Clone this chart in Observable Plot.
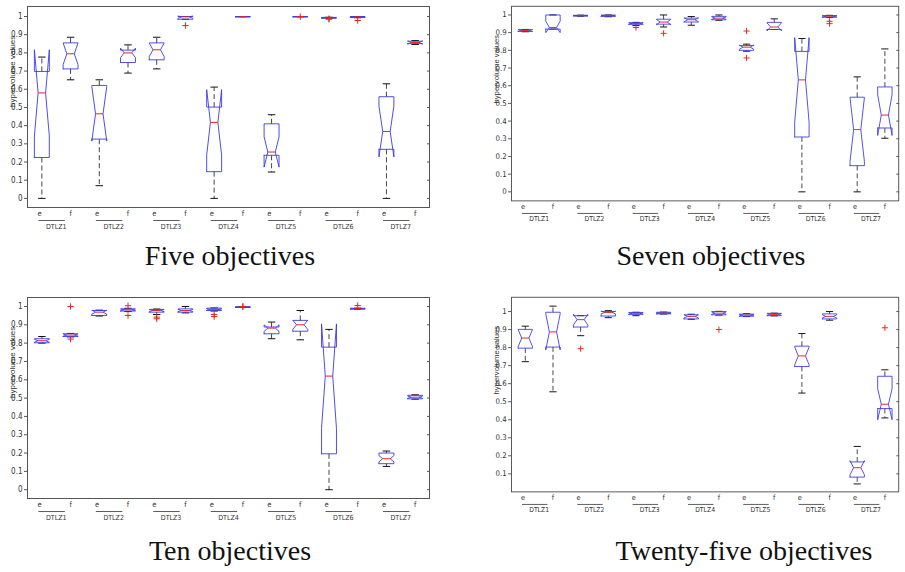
<!DOCTYPE html>
<html><head><meta charset="utf-8">
<script src="https://cdn.jsdelivr.net/npm/d3@7"></script>
<script src="https://cdn.jsdelivr.net/npm/@observablehq/plot@0.6"></script>
<style>
html,body{margin:0;padding:0;background:#fff;width:905px;height:572px;overflow:hidden;position:relative;}
.panel{position:absolute;}
.title{position:absolute;width:400px;text-align:center;font-family:"Liberation Serif","DejaVu Serif",serif;font-size:28px;line-height:30px;color:#111;white-space:nowrap;}
</style></head><body>
<div id="p1" class="panel" style="left:0;top:0"></div>
<div id="p2" class="panel" style="left:450px;top:0"></div>
<div id="p3" class="panel" style="left:0;top:291px"></div>
<div id="p4" class="panel" style="left:450px;top:291px"></div>
<div class="title" style="left:30px;top:241px">Five objectives</div>
<div class="title" style="left:511px;top:241px">Seven objectives</div>
<div class="title" style="left:30px;top:536px">Ten objectives</div>
<div class="title" style="left:544px;top:536px">Twenty-five objectives</div>
<script>
// Problems and algorithm variants (two boxes per problem)
const problems = ["DTLZ1","DTLZ2","DTLZ3","DTLZ4","DTLZ5","DTLZ6","DTLZ7"];
const variants = ["e","f"];
const yLabel = "hypervolume values";
const ticksFull = [0,0.1,0.2,0.3,0.4,0.5,0.6,0.7,0.8,0.9,1];
const ticksNoZero = [0.1,0.2,0.3,0.4,0.5,0.6,0.7,0.8,0.9,1];

// Box statistics per box (DTLZ1 e, DTLZ1 f, DTLZ2 e, ...):
// [lower whisker, Q1, notch low, median, notch high, Q3, upper whisker]
const fiveStats = [
  [0.000,0.225,0.343,0.580,0.817,0.698,0.777],
  [0.652,0.712,0.735,0.795,0.855,0.855,0.886],
  [0.070,0.326,0.315,0.465,0.615,0.621,0.652],
  [0.689,0.747,0.774,0.800,0.826,0.815,0.844],
  [0.712,0.762,0.780,0.817,0.854,0.855,0.886],
  [0.985,0.985,0.990,0.998,1.003,1.000,1.000],
  [0.000,0.147,0.238,0.418,0.598,0.502,0.612],
  [0.998,0.998,0.998,0.999,1.000,1.000,1.000],
  [0.145,0.237,0.172,0.255,0.338,0.410,0.460],
  [0.998,0.998,0.998,0.999,1.000,1.000,1.000],
  [0.990,0.991,0.991,0.993,0.995,0.995,0.996],
  [0.993,0.995,0.996,0.998,1.000,1.000,1.000],
  [0.000,0.270,0.228,0.368,0.508,0.559,0.630],
  [0.846,0.851,0.848,0.857,0.866,0.864,0.868]
];
const fiveOutliers = [[6,0.950],[10,0.999],[11,0.985],[11,0.988],[12,0.978]];

const sevenStats = [
  [0.905,0.907,0.906,0.912,0.918,0.917,0.918],
  [0.920,0.920,0.900,0.929,0.965,1.000,1.000],
  [0.993,0.994,0.994,0.996,0.998,0.998,0.999],
  [0.990,0.992,0.993,0.996,0.999,0.999,1.000],
  [0.940,0.947,0.948,0.952,0.956,0.956,0.958],
  [0.932,0.948,0.945,0.960,0.975,0.976,1.000],
  [0.942,0.960,0.962,0.973,0.984,0.982,0.991],
  [0.970,0.973,0.975,0.982,0.989,0.992,1.000],
  [0.795,0.800,0.806,0.818,0.830,0.827,0.835],
  [0.918,0.918,0.910,0.932,0.955,0.958,0.978],
  [0.000,0.310,0.394,0.633,0.872,0.794,0.867],
  [0.986,0.987,0.989,0.993,0.997,0.996,0.998],
  [0.000,0.148,0.172,0.352,0.532,0.535,0.650],
  [0.303,0.361,0.319,0.434,0.549,0.593,0.808]
];
const sevenOutliers = [[5,0.929],[6,0.896],[9,0.909],[9,0.757],[12,0.964],[12,0.951]];

const tenStats = [
  [0.800,0.802,0.805,0.813,0.821,0.824,0.836],
  [0.834,0.836,0.838,0.844,0.850,0.851,0.853],
  [0.948,0.951,0.958,0.969,0.980,0.978,0.980],
  [0.972,0.975,0.977,0.982,0.987,0.987,0.990],
  [0.956,0.969,0.972,0.978,0.984,0.984,0.986],
  [0.965,0.969,0.972,0.978,0.984,0.987,1.000],
  [0.975,0.978,0.980,0.984,0.988,0.991,0.992],
  [0.995,0.995,0.996,0.997,0.998,0.998,0.999],
  [0.824,0.851,0.864,0.882,0.900,0.888,0.915],
  [0.818,0.865,0.875,0.900,0.925,0.924,0.978],
  [0.000,0.196,0.335,0.620,0.905,0.778,0.875],
  [0.985,0.986,0.986,0.988,0.990,0.990,0.991],
  [0.127,0.142,0.152,0.169,0.186,0.200,0.211],
  [0.494,0.496,0.499,0.505,0.511,0.515,0.518]
];
const tenOutliers = [[2,1.000],[2,0.822],[4,1.004],[4,0.951],[5,0.942],[5,0.933],[7,0.956],[7,0.945],[8,1.000],[8,0.999],[12,1.005]];

const twentyFiveStats = [
  [0.722,0.797,0.805,0.853,0.900,0.901,0.919],
  [0.555,0.803,0.787,0.887,0.987,0.996,1.030],
  [0.866,0.914,0.925,0.955,0.985,0.977,0.977],
  [0.966,0.975,0.987,0.995,1.003,1.000,1.005],
  [0.977,0.984,0.986,0.990,0.994,0.995,0.996],
  [0.986,0.987,0.988,0.991,0.994,0.996,0.997],
  [0.957,0.959,0.965,0.973,0.981,0.982,0.985],
  [0.980,0.982,0.985,0.991,0.997,1.000,1.001],
  [0.972,0.974,0.976,0.980,0.984,0.986,0.988],
  [0.976,0.977,0.979,0.984,0.989,0.990,0.991],
  [0.548,0.695,0.705,0.754,0.803,0.808,0.878],
  [0.952,0.959,0.964,0.973,0.982,0.987,1.000],
  [0.044,0.082,0.095,0.134,0.173,0.166,0.252],
  [0.410,0.462,0.400,0.486,0.572,0.641,0.677]
];
const twentyFiveOutliers = [[3,0.794],[8,0.900],[14,0.910]];

const BLUE = "#3a3aec", RED = "#e8241c", WHISK = "#444";
const NARROW = "'Liberation Sans Narrow','DejaVu Sans Condensed','Liberation Sans',sans-serif";
const HW = 0.26; // box half-width in position units

function drawPanel(el, stats, outliers, yDomain, ticks, width, marginLeft, marginRight) {
  const boxes = stats.map((s, i) => ({pos: i + 1, lo: s[0], q1: s[1], nLo: s[2], med: s[3], nHi: s[4], q3: s[5], hi: s[6]}));
  const poly = boxes.flatMap(b => {
    const p = b.pos;
    return [[p-HW,b.q1],[p-HW,b.nLo],[p-HW/2,b.med],[p-HW,b.nHi],[p-HW,b.q3],
            [p+HW,b.q3],[p+HW,b.nHi],[p+HW/2,b.med],[p+HW,b.nLo],[p+HW,b.q1],[p-HW,b.q1]]
      .map(([x, y]) => ({id: p, x, y}));
  });
  const outl = outliers.map(([i, v]) => ({pos: i, v}));
  const varLabels = problems.flatMap((g, gi) => variants.map((v, vi) => ({pos: gi * 2 + vi + 1, v})));
  const groups = problems.map((g, gi) => ({g, pe: gi * 2 + 1, pf: gi * 2 + 2}));
  const yMin = yDomain[0];
  const fmt = d => String(+d.toFixed(1));
  const svg = Plot.plot({
    width, height: 240,
    marginLeft, marginRight, marginTop: 6, marginBottom: 33,
    x: {domain: [0.5, 14.5], axis: null},
    y: {domain: yDomain},
    style: {background: "transparent", color: "#333"},
    marks: [
      Plot.axisY({ticks, anchor: "left", tickSize: 3, tickPadding: 2, tickFormat: fmt, fontSize: 8, fontFamily: NARROW, label: null, stroke: "#555", fill: "#333"}),
      Plot.axisY({ticks, anchor: "right", tickSize: 3, dx: -3, tickFormat: () => "", label: null, stroke: "#555"}),
      Plot.text([yLabel], {text: d => d, frameAnchor: "left", rotate: -90, dx: -15, fontSize: 8, fontFamily: "'Liberation Sans',sans-serif", fill: "#333"}),
      Plot.link(boxes, {x1: "pos", x2: "pos", y1: "q3", y2: "hi", stroke: WHISK, strokeDasharray: "5,3"}),
      Plot.link(boxes, {x1: "pos", x2: "pos", y1: "q1", y2: "lo", stroke: WHISK, strokeDasharray: "5,3"}),
      Plot.link(boxes, {x1: d => d.pos - HW/2, x2: d => d.pos + HW/2, y1: "hi", y2: "hi", stroke: "#111"}),
      Plot.link(boxes, {x1: d => d.pos - HW/2, x2: d => d.pos + HW/2, y1: "lo", y2: "lo", stroke: "#111"}),
      Plot.line(poly, {x: "x", y: "y", z: "id", stroke: BLUE, strokeWidth: 0.9}),
      Plot.link(boxes, {x1: d => d.pos - HW/2, x2: d => d.pos + HW/2, y1: "med", y2: "med", stroke: RED}),
      Plot.dot(outl, {x: "pos", y: "v", symbol: "plus", r: 2.2, stroke: RED, strokeWidth: 1}),
      Plot.text(varLabels, {x: d => d.pos - (d.v === "e" ? 0.08 : 0), text: "v", frameAnchor: "bottom", dy: 8, fontSize: 7.5, fontFamily: NARROW, fill: "#333"}),
      Plot.link(groups, {x1: d => d.pe - 0.12, x2: d => d.pf - 0.2, y1: () => yMin, y2: () => yMin, dy: 13, stroke: "#333", strokeWidth: 0.8}),
      Plot.text(groups, {x: d => (d.pe + d.pf) / 2, text: "g", frameAnchor: "bottom", dy: 21, fontSize: 7, fontFamily: NARROW, fill: "#333"}),
      Plot.frame({stroke: "#555"})
    ]
  });
  document.getElementById(el).appendChild(svg);
}

drawPanel("p1", fiveStats, fiveOutliers, [-0.05, 1.055], ticksFull, 450, 27, 21);
drawPanel("p2", sevenStats, sevenOutliers, [-0.051, 1.049], ticksFull, 470, 63, 7);
drawPanel("p3", tenStats, tenOutliers, [-0.048, 1.049], ticksFull, 450, 27, 21);
drawPanel("p4", twentyFiveStats, twentyFiveOutliers, [0, 1.079], ticksNoZero, 470, 63, 7);
</script>
</body></html>
